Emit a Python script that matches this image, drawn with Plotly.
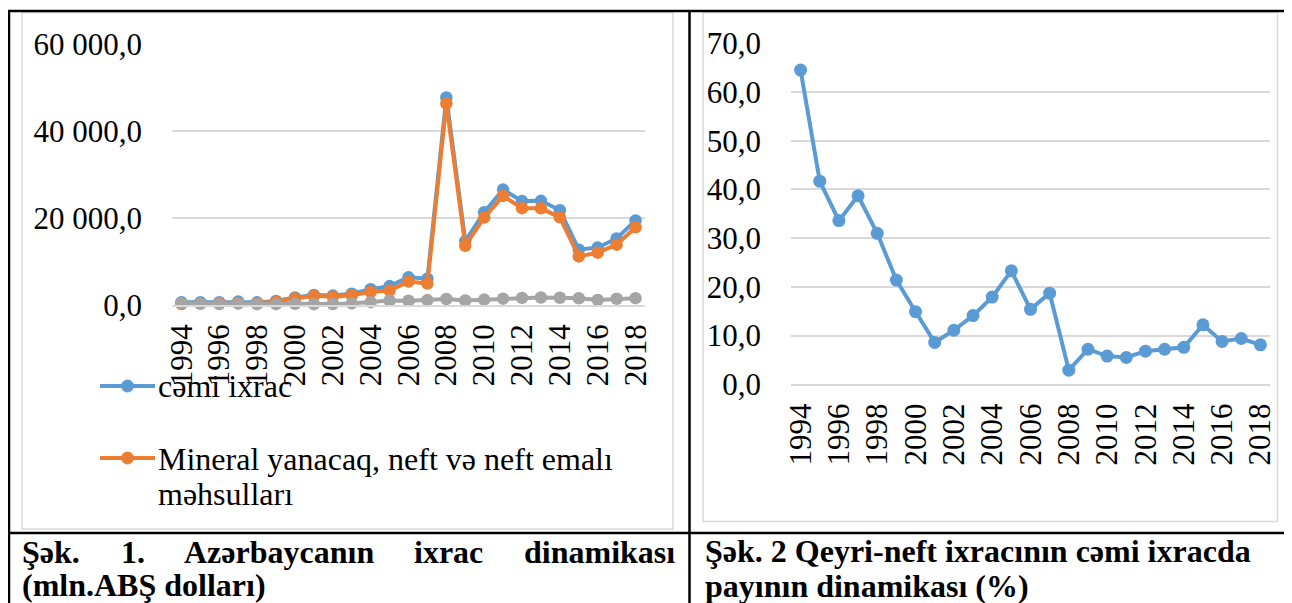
import plotly.graph_objects as go

# The page places the figure 8px from the top-left corner (default body margin),
# so the figure is sized to fill the rest of the 1292x603 window.
W, H = 1292, 603
OFF = 8
FW, FH = W - OFF, H - OFF

years = [str(y) for y in range(1994, 2019)]
year_ticks = years[::2]

total_exports = [653, 637, 631, 781, 606, 930, 1745, 2314, 2167, 2590, 3615, 4347,
                 6372, 6058, 47756, 14701, 21360, 26571, 23908, 23975, 21829, 12729,
                 13208, 15320, 19459]
oil_exports = [232, 371, 419, 479, 418, 731, 1485, 2115, 1927, 2225, 2968, 3334,
               5391, 4925, 46371, 13643, 20121, 25110, 22282, 22249, 20170, 11176,
               12045, 13880, 17883]
nonoil_exports = [421, 266, 212, 302, 188, 199, 260, 199, 240, 365, 647, 1013,
                  981, 1133, 1385, 1058, 1239, 1461, 1626, 1726, 1659, 1553,
                  1163, 1440, 1576]
nonoil_share = [64.5, 41.7, 33.6, 38.7, 31.0, 21.4, 14.9, 8.6, 11.1, 14.1, 17.9, 23.3,
                15.4, 18.7, 2.9, 7.2, 5.8, 5.5, 6.8, 7.2, 7.6, 12.2, 8.8, 9.4, 8.1]

left_yticks = [0, 20000, 40000, 60000]
right_yticks = [0, 10, 20, 30, 40, 50, 60, 70]

legend_total = "cəmi ixrac"
legend_oil_1 = "Mineral yanacaq, neft və neft emalı"
legend_oil_2 = "məhsulları"
caption1_words = ["Şək.", "1.", "Azərbaycanın", "ixrac", "dinamikası"]
caption1_line2 = "(mln.ABŞ dolları)"
caption2_line1 = "Şək. 2 Qeyri-neft ixracının cəmi ixracda"
caption2_line2 = "payının dinamikası (%)"

BLUE = "#5B9BD5"
ORANGE = "#ED7D31"
GRAY = "#A5A5A5"
GRID = "#D9D9D9"
FONT = "'Liberation Serif', 'Times New Roman', Tinos, serif"


def px(x):
    return (x - OFF) / FW


def py(y):
    return 1 - (y - OFF) / FH


fig = go.Figure()

for vals, col in [(total_exports, BLUE), (oil_exports, ORANGE), (nonoil_exports, GRAY)]:
    fig.add_trace(go.Scatter(
        x=years, y=vals, mode="lines+markers", xaxis="x", yaxis="y",
        line=dict(color=col, width=4), marker=dict(color=col, size=12.5),
        cliponaxis=False, showlegend=False, hoverinfo="skip"))

fig.add_trace(go.Scatter(
    x=years, y=nonoil_share, mode="lines+markers", xaxis="x2", yaxis="y2",
    line=dict(color=BLUE, width=4), marker=dict(color=BLUE, size=13),
    cliponaxis=False, showlegend=False, hoverinfo="skip"))

tickfont = dict(family=FONT, size=31, color="black")

xaxis_common = dict(type="category", range=[-0.5, 24.5], tickangle=-90,
                    tickmode="array", tickvals=year_ticks, ticktext=year_ticks,
                    showgrid=False, zeroline=False, showline=True, linecolor=GRID,
                    linewidth=1.5, ticks="", tickfont=tickfont, ticklabelstandoff=5,
                    automargin=False, fixedrange=True)
yaxis_common = dict(showgrid=True, gridcolor=GRID, gridwidth=1.5, zeroline=False,
                    showline=False, ticks="", tickfont=tickfont, ticklabelstandoff=29,
                    automargin=False, fixedrange=True)

fig.update_layout(
    width=FW, height=FH, autosize=False, margin=dict(l=0, r=0, t=0, b=0, pad=0),
    paper_bgcolor="white", plot_bgcolor="white",
    separators=", ", showlegend=False,
    font=dict(family=FONT, color="black"),
    xaxis=dict(domain=[px(172), px(645)], anchor="y", **xaxis_common),
    yaxis=dict(domain=[py(305), py(44.3)], anchor="x", range=[0, 60000],
               tickmode="array", tickvals=left_yticks, tickformat=",.1f", **yaxis_common),
    xaxis2=dict(domain=[px(791), px(1270)], anchor="y2", **xaxis_common),
    yaxis2=dict(domain=[py(384.3), py(43.3)], anchor="x2", range=[0, 70],
                tickmode="array", tickvals=right_yticks, tickformat=".1f", **yaxis_common),
)

shapes = []
# chart area borders
shapes.append(dict(type="rect", xref="paper", yref="paper", x0=px(22), x1=px(673),
                   y0=py(529), y1=py(12.5), line=dict(color=GRID, width=1.5), layer="below"))
shapes.append(dict(type="rect", xref="paper", yref="paper", x0=px(703), x1=px(1277.5),
                   y0=py(521.5), y1=py(12.5), line=dict(color=GRID, width=1.5), layer="below"))
# table lines
for x0, y0, x1, y1 in [(8, 11, W, 11), (9, 11, 9, H), (689.5, 11, 689.5, H), (8, 533, W, 533)]:
    shapes.append(dict(type="line", xref="paper", yref="paper", x0=px(x0), y0=py(y0),
                       x1=px(x1), y1=py(y1), line=dict(color="black", width=2.5)))
# legend keys
for ly, col in [(386, BLUE), (458, ORANGE)]:
    shapes.append(dict(type="line", xref="paper", yref="paper", x0=px(100), x1=px(155),
                       y0=py(ly), y1=py(ly), line=dict(color=col, width=4)))
    shapes.append(dict(type="circle", xref="paper", yref="paper", x0=px(121.5), x1=px(133.5),
                       y0=py(ly + 6), y1=py(ly - 6), fillcolor=col, line=dict(color=col, width=1)))
fig.update_layout(shapes=shapes)

annotations = []


def ann(text, x, baseline, size, bold=False, xanchor="left"):
    annotations.append(dict(text=text, x=px(x), y=py(baseline - 0.34 * size), xref="paper",
                            yref="paper", xanchor=xanchor, yanchor="middle", showarrow=False,
                            font=dict(family=FONT, size=size, color="black",
                                      weight="bold" if bold else "normal"),
                            borderpad=0))


ann(legend_total, 157, 397, 32)
ann(legend_oil_1, 157, 470, 32)
ann(legend_oil_2, 157, 505, 32)

for word, cx in zip(caption1_words, [51, 133, 279, 448.5, 599]):
    ann(word, cx, 563, 32, bold=True, xanchor="center")
ann(caption1_line2, 21, 596, 32, bold=True)
ann(caption2_line1, 704, 562, 32, bold=True)
ann(caption2_line2, 704, 597, 32, bold=True)

fig.update_layout(annotations=annotations)

fig.write_html("out.html")
